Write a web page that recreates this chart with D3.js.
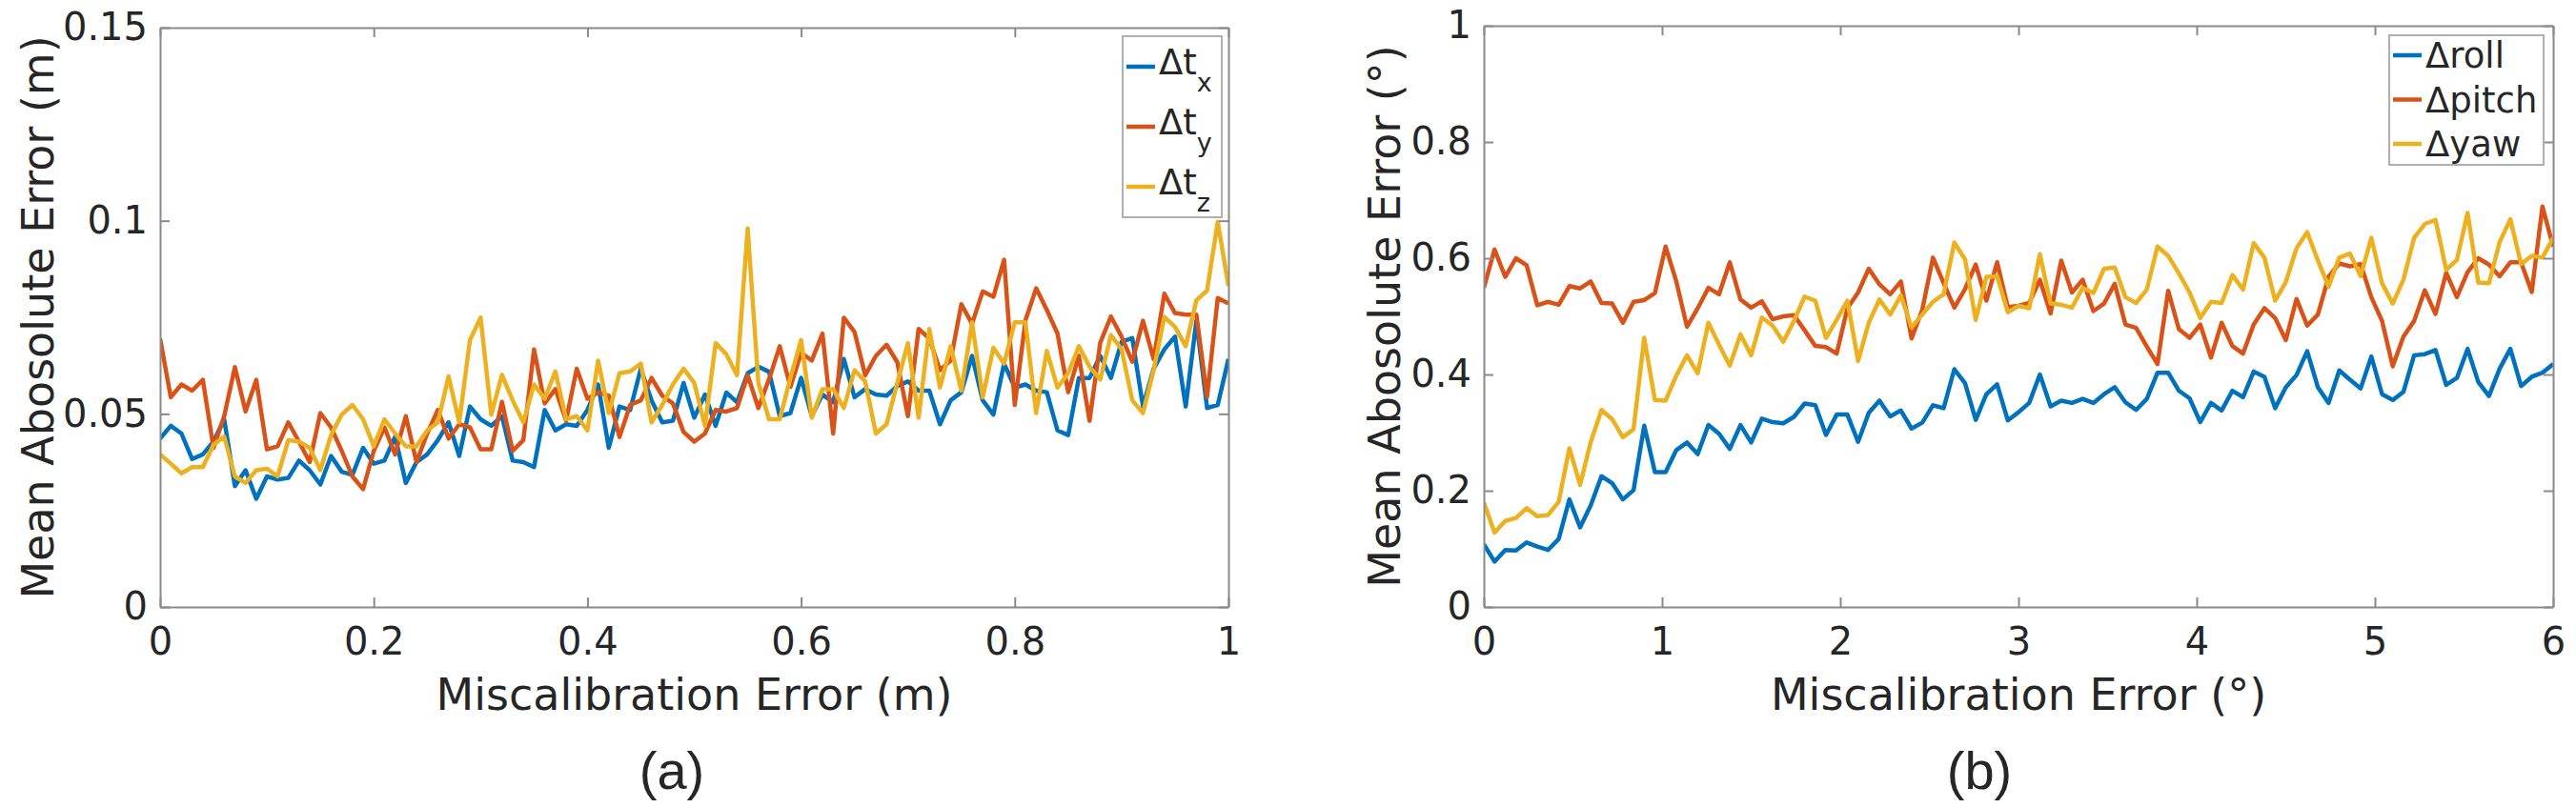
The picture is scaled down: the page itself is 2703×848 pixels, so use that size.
<!DOCTYPE html>
<html>
<head>
<meta charset="utf-8">
<script src="https://cdn.jsdelivr.net/npm/d3@7"></script>
<style>
    body { margin: 0; background: #fff; }
    text { font-family: "DejaVu Sans", sans-serif; fill: #262626; }
</style>
</head>
<body>
<svg id="chart" width="2703" height="848"></svg>
<script>
// panel (a): translation error, sampled every 0.01 m from 0 to 1
const xStepA = 0.01;
const dtx = [0.0436, 0.0469, 0.0449, 0.0383, 0.0395, 0.0428, 0.0486, 0.0313, 0.0354, 0.028, 0.0338, 0.033, 0.0334, 0.0379, 0.0354, 0.0317, 0.0391, 0.035, 0.0342, 0.0412, 0.0371, 0.0379, 0.0441, 0.0321, 0.0375, 0.0395, 0.0432, 0.0478, 0.0391, 0.0519, 0.0486, 0.0469, 0.0494, 0.0379, 0.0375, 0.0362, 0.051, 0.0457, 0.0473, 0.0469, 0.051, 0.0576, 0.0412, 0.0519, 0.051, 0.0617, 0.0535, 0.0478, 0.0482, 0.058, 0.049,
    0.055, 0.0469, 0.0555, 0.053, 0.0605, 0.0622, 0.0609, 0.0494, 0.0502, 0.0593, 0.0494, 0.055, 0.053, 0.0642, 0.0543, 0.0564, 0.055, 0.0547, 0.0572, 0.0584, 0.056, 0.056, 0.0473, 0.0535, 0.0556, 0.065, 0.0535, 0.0498, 0.063, 0.0568, 0.0576, 0.056, 0.0556, 0.0457, 0.0445, 0.0593, 0.0593, 0.065, 0.0593, 0.0687, 0.0696, 0.0519, 0.0617, 0.0667, 0.07, 0.0519, 0.0741, 0.0515, 0.0523, 0.0642];
const dty = [0.0695, 0.0543, 0.0576, 0.056, 0.0588, 0.0412, 0.0494, 0.0621, 0.0506, 0.0588, 0.0408, 0.0416, 0.0478, 0.0428, 0.0375, 0.0502, 0.0465, 0.0404, 0.0338, 0.0305, 0.0404, 0.0465, 0.0395, 0.0494, 0.0375, 0.0449, 0.051, 0.0436, 0.0473, 0.0465, 0.0408, 0.0408, 0.0531, 0.0404, 0.0432, 0.0667, 0.0527, 0.0564, 0.0482, 0.0617, 0.0539, 0.0556, 0.0547, 0.044, 0.0523, 0.0535, 0.0593, 0.0547, 0.0527, 0.0453, 0.0428,
    0.0449, 0.051, 0.0506, 0.0515, 0.06, 0.0515, 0.059, 0.0675, 0.057, 0.0658, 0.0638, 0.0708, 0.0449, 0.0749, 0.0712, 0.06, 0.065, 0.0679, 0.0634, 0.0494, 0.072, 0.0695, 0.0613, 0.0638, 0.0784, 0.0733, 0.0817, 0.0803, 0.0899, 0.0523, 0.0742, 0.0825, 0.0769, 0.0708, 0.0556, 0.065, 0.0482, 0.0684, 0.0752, 0.07, 0.0635, 0.0741, 0.0642, 0.0811, 0.0761, 0.0757, 0.0757, 0.0544, 0.08, 0.0786];
const dtz = [0.0395, 0.0371, 0.0346, 0.0362, 0.0362, 0.042, 0.0441, 0.0338, 0.0321, 0.0354, 0.0358, 0.0338, 0.0432, 0.0428, 0.0412, 0.0354, 0.0445, 0.0498, 0.0523, 0.0486, 0.0416, 0.0486, 0.0449, 0.0416, 0.0416, 0.0457, 0.0478, 0.0597, 0.0478, 0.0691, 0.0749, 0.0498, 0.0601, 0.0535, 0.0478, 0.0576, 0.0539, 0.061, 0.0486, 0.0494, 0.0457, 0.0638, 0.0502, 0.0605, 0.061, 0.063, 0.0478, 0.0523, 0.0576, 0.0617, 0.058,
    0.0469, 0.0683, 0.0654, 0.06, 0.098, 0.058, 0.0486, 0.0486, 0.0593, 0.0691, 0.049, 0.0564, 0.0564, 0.0515, 0.0613, 0.0584, 0.0449, 0.0473, 0.058, 0.0683, 0.049, 0.072, 0.0568, 0.0675, 0.056, 0.0737, 0.0543, 0.0671, 0.063, 0.0737, 0.0737, 0.0502, 0.0663, 0.0568, 0.0605, 0.0675, 0.0622, 0.0589, 0.0704, 0.0667, 0.0535, 0.0502, 0.0613, 0.0751, 0.0725, 0.0675, 0.0794, 0.0819, 0.0997, 0.0831];

// panel (b): rotation error, sampled every 0.06 deg from 0 to 6
const xStepB = 0.06;
const droll = [0.108, 0.078, 0.098, 0.097, 0.111, 0.104, 0.098, 0.117, 0.185, 0.137, 0.175, 0.225, 0.213, 0.185, 0.201, 0.312, 0.232, 0.232, 0.270, 0.283, 0.263, 0.313, 0.298, 0.272, 0.313, 0.283,
    0.324, 0.318, 0.316, 0.327, 0.350, 0.347, 0.296, 0.331, 0.331, 0.284, 0.334, 0.355, 0.328, 0.338, 0.307, 0.317, 0.347, 0.342, 0.409, 0.385, 0.322, 0.366, 0.383, 0.321, 0.335,
    0.351, 0.400, 0.345, 0.355, 0.351, 0.358, 0.351, 0.366, 0.378, 0.352, 0.339, 0.358, 0.403, 0.403, 0.372, 0.359, 0.318, 0.351, 0.338, 0.372, 0.361, 0.405, 0.396, 0.342, 0.378,
    0.399, 0.440, 0.378, 0.351, 0.407, 0.391, 0.376, 0.431, 0.366, 0.356, 0.370, 0.433, 0.435, 0.442, 0.382, 0.394, 0.444, 0.387, 0.363, 0.410, 0.444, 0.380, 0.396, 0.403, 0.418];
const dpitch = [0.549, 0.615, 0.568, 0.600, 0.588, 0.519, 0.525, 0.520, 0.552, 0.548, 0.560, 0.523, 0.522, 0.489, 0.525, 0.528, 0.540, 0.620, 0.560, 0.482, 0.514, 0.549, 0.538, 0.593, 0.529, 0.515,
    0.526, 0.495, 0.500, 0.502, 0.476, 0.449, 0.447, 0.436, 0.514, 0.541, 0.582, 0.555, 0.538, 0.560, 0.462, 0.511, 0.601, 0.557, 0.515, 0.547, 0.589, 0.527, 0.593, 0.516, 0.518,
    0.523, 0.563, 0.505, 0.596, 0.541, 0.563, 0.509, 0.522, 0.556, 0.486, 0.480, 0.448, 0.418, 0.544, 0.478, 0.463, 0.486, 0.429, 0.489, 0.449, 0.436, 0.486, 0.514, 0.497, 0.459,
    0.530, 0.484, 0.503, 0.568, 0.591, 0.586, 0.590, 0.533, 0.492, 0.414, 0.465, 0.492, 0.545, 0.504, 0.575, 0.533, 0.576, 0.600, 0.589, 0.569, 0.593, 0.593, 0.542, 0.689, 0.620];
const dyaw = [0.180, 0.128, 0.148, 0.153, 0.170, 0.156, 0.158, 0.181, 0.273, 0.210, 0.284, 0.339, 0.323, 0.292, 0.306, 0.463, 0.356, 0.355, 0.398, 0.433, 0.402, 0.489, 0.451, 0.415, 0.469, 0.433,
    0.498, 0.484, 0.456, 0.492, 0.534, 0.527, 0.463, 0.494, 0.527, 0.423, 0.489, 0.529, 0.503, 0.536, 0.481, 0.503, 0.525, 0.538, 0.627, 0.598, 0.494, 0.568, 0.569, 0.507, 0.518,
    0.514, 0.607, 0.522, 0.520, 0.515, 0.549, 0.540, 0.582, 0.584, 0.533, 0.523, 0.546, 0.620, 0.604, 0.574, 0.541, 0.497, 0.525, 0.523, 0.571, 0.546, 0.626, 0.601, 0.527, 0.559,
    0.617, 0.645, 0.596, 0.551, 0.601, 0.608, 0.569, 0.635, 0.557, 0.522, 0.563, 0.635, 0.659, 0.666, 0.580, 0.597, 0.678, 0.558, 0.557, 0.628, 0.667, 0.590, 0.604, 0.601, 0.635];

const xTicksA = [0, 0.2, 0.4, 0.6, 0.8, 1];
const xTickLabelsA = ["0", "0.2", "0.4", "0.6", "0.8", "1"];
const yTicksA = [0, 0.05, 0.1, 0.15];
const yTickLabelsA = ["0", "0.05", "0.1", "0.15"];
const xTicksB = [0, 1, 2, 3, 4, 5, 6];
const xTickLabelsB = ["0", "1", "2", "3", "4", "5", "6"];
const yTicksB = [0, 0.2, 0.4, 0.6, 0.8, 1];
const yTickLabelsB = ["0", "0.2", "0.4", "0.6", "0.8", "1"];

const colors = ["#0072BD", "#D95319", "#EDB120"];
const axisColor = "#8a8a8a";

const svg = d3.select("#chart");

function drawPanel(p) {
    const x = d3.scaleLinear().domain(p.xDomain).range([p.left, p.right]);
    const y = d3.scaleLinear().domain(p.yDomain).range([p.bottom, p.top]);
    const g = svg.append("g");

    g.append("clipPath").attr("id", p.id + "clip")
        .append("rect")
        .attr("x", p.left).attr("y", p.top)
        .attr("width", p.right - p.left).attr("height", p.bottom - p.top);

    const line = d3.line()
        .x((d, i) => x(i * p.step))
        .y(d => y(d));

    p.series.forEach((s, i) => {
        g.append("path")
            .attr("d", line(s.values))
            .attr("clip-path", "url(#" + p.id + "clip)")
            .attr("fill", "none")
            .attr("stroke", colors[i])
            .attr("stroke-width", 4.5)
            .attr("stroke-linejoin", "round");
    });

    // box with inward ticks on every side, like matlab
    const fmt = (labels, ticks) => (d => labels[ticks.indexOf(d)]);
    const axes = [
        [d3.axisBottom(x).tickValues(p.xTicks).tickFormat(fmt(p.xLabels, p.xTicks)).tickPadding(22), 0, p.bottom],
        [d3.axisTop(x).tickValues(p.xTicks).tickFormat(""), 0, p.top],
        [d3.axisLeft(y).tickValues(p.yTicks).tickFormat(fmt(p.yLabels, p.yTicks)).tickPadding(13), p.left, 0],
        [d3.axisRight(y).tickValues(p.yTicks).tickFormat(""), p.right, 0]
    ];
    axes.forEach(a => {
        const ax = g.append("g")
            .attr("transform", "translate(" + a[1] + "," + a[2] + ")")
            .call(a[0].tickSizeInner(-10).tickSizeOuter(0));
        ax.select(".domain").attr("stroke", axisColor).attr("stroke-width", 2);
        ax.selectAll(".tick line").attr("stroke", axisColor).attr("stroke-width", 2);
        ax.selectAll(".tick text")
            .attr("fill", "#262626")
            .style("font-size", "40px")
            .style("font-family", "'DejaVu Sans', sans-serif");
    });

    g.append("text")
        .attr("x", (p.left + p.right) / 2)
        .attr("y", 745)
        .attr("text-anchor", "middle")
        .style("font-size", "46px")
        .text(p.xTitle);

    g.append("text")
        .attr("transform", "translate(" + p.yTitleX + "," + (p.top + p.bottom) / 2 + ") rotate(-90)")
        .attr("text-anchor", "middle")
        .style("font-size", "46px")
        .text(p.yTitle);

    g.append("text")
        .attr("x", p.tagX)
        .attr("y", 828)
        .attr("text-anchor", "middle")
        .style("font-family", "'Liberation Sans', sans-serif")
        .style("font-size", "56px")
        .text(p.tag);

    // legend
    const lg = p.legend;
    g.append("rect")
        .attr("x", lg.x).attr("y", lg.y)
        .attr("width", lg.w).attr("height", lg.h)
        .attr("fill", "#fff")
        .attr("stroke", "#b0b0b0")
        .attr("stroke-width", 2);
    p.series.forEach((s, i) => {
        const cy = lg.y + lg.first + i * lg.gap;
        g.append("line")
            .attr("x1", lg.x + 4).attr("x2", lg.x + 34)
            .attr("y1", cy).attr("y2", cy)
            .attr("stroke", colors[i])
            .attr("stroke-width", 4.5);
        const t = g.append("text")
            .attr("x", lg.x + 38)
            .attr("y", cy + lg.base)
            .style("font-size", lg.size + "px");
        t.append("tspan").text(s.name);
        if (s.sub) {
            t.append("tspan")
                .attr("dy", 18)
                .style("font-size", "27px")
                .text(s.sub);
        }
    });
}

drawPanel({
    id: "a",
    left: 168, right: 1289, top: 29, bottom: 637,
    xDomain: [0, 1], yDomain: [0, 0.15], step: xStepA,
    xTicks: xTicksA, xLabels: xTickLabelsA,
    yTicks: yTicksA, yLabels: yTickLabelsA,
    xTitle: "Miscalibration Error (m)",
    yTitle: "Mean Abosolute Error (m)",
    yTitleX: 56,
    tag: "(a)", tagX: 705,
    series: [
        { name: "\u0394t", sub: "x", values: dtx },
        { name: "\u0394t", sub: "y", values: dty },
        { name: "\u0394t", sub: "z", values: dtz }
    ],
    legend: { x: 1178, y: 38, w: 104, h: 190, first: 32, gap: 63, base: 8, size: 37 }
});

drawPanel({
    id: "b",
    left: 1557, right: 2679, top: 27, bottom: 637,
    xDomain: [0, 6], yDomain: [0, 1], step: xStepB,
    xTicks: xTicksB, xLabels: xTickLabelsB,
    yTicks: yTicksB, yLabels: yTickLabelsB,
    xTitle: "Miscalibration Error (\u00b0)",
    yTitle: "Mean Abosolute Error (\u00b0)",
    yTitleX: 1469,
    tag: "(b)", tagX: 2077,
    series: [
        { name: "\u0394roll", values: droll },
        { name: "\u0394pitch", values: dpitch },
        { name: "\u0394yaw", values: dyaw }
    ],
    legend: { x: 2507, y: 37, w: 162, h: 136, first: 21, gap: 46.5, base: 13, size: 37 }
});
</script>
</body>
</html>
